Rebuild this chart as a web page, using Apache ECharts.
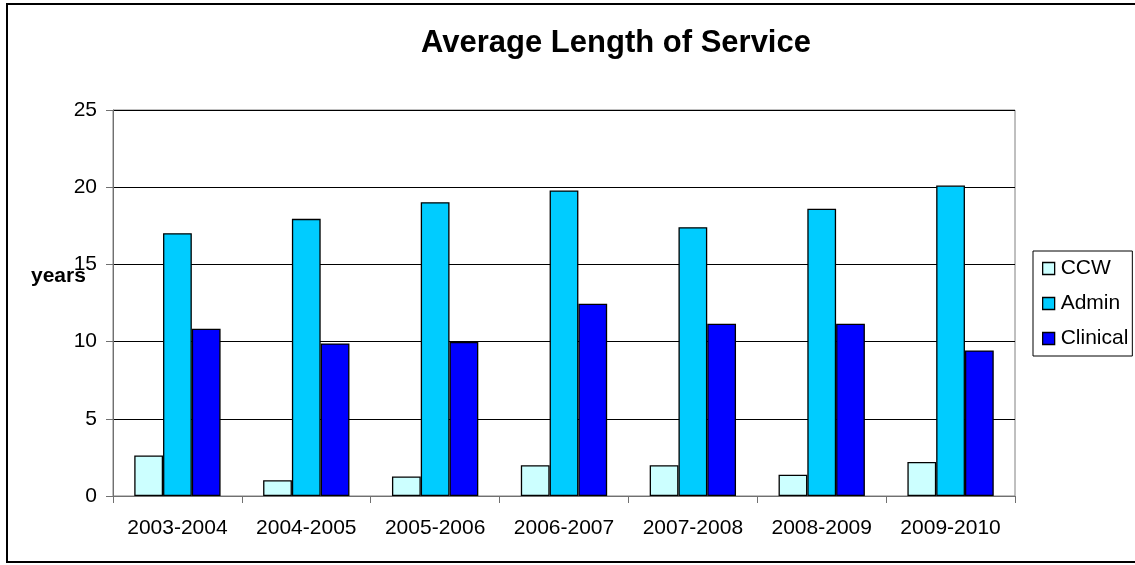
<!DOCTYPE html>
<html>
<head>
<meta charset="utf-8">
<script src="https://cdn.jsdelivr.net/npm/echarts@6/dist/echarts.min.js"></script>
<style>
  html, body { margin: 0; padding: 0; background: #fff; }
  #chart { width: 1135px; height: 565px; }
</style>
</head>
<body>
<div id="chart"></div>
<script>
// Fiscal years shown along the horizontal axis
const years = ['2003-2004', '2004-2005', '2005-2006', '2006-2007', '2007-2008', '2008-2009', '2009-2010'];

// Average length of service (years) per staff group
const ccw      = [2.63, 1.02, 1.27, 1.99, 1.99, 1.38, 2.20];
const admin    = [17.02, 17.95, 19.03, 19.79, 17.41, 18.60, 20.11];
const clinical = [10.83, 9.88, 9.97, 12.45, 11.16, 11.16, 9.43];

// Value axis ticks
const yTicks = [0, 5, 10, 15, 20, 25];

const FONT = '"Liberation Sans", Arial, sans-serif';

const chart = echarts.init(document.getElementById('chart'), null, { renderer: 'canvas' });

function barSeries(name, data, color) {
  return {
    name: name,
    type: 'bar',
    data: data,
    barGap: '0%',
    barCategoryGap: '33%',
    itemStyle: { color: color, borderColor: '#000', borderWidth: 1.3 },
    emphasis: { disabled: true },
    animation: false
  };
}

chart.setOption({
  animation: false,
  backgroundColor: '#fff',
  textStyle: { fontFamily: FONT },
  grid: {
    left: 113, right: 120, top: 110, bottom: 69,
    show: true, borderColor: '#808080', borderWidth: 1, backgroundColor: 'transparent'
  },
  legend: {
    orient: 'vertical',
    left: 1033, top: 251,
    padding: [7, 4, 7, 9],
    itemWidth: 12, itemHeight: 12,
    itemGap: 14,
    icon: 'rect',
    borderColor: '#000', borderWidth: 1,
    backgroundColor: '#fff',
    selectedMode: false,
    textStyle: { fontFamily: FONT, fontSize: 21, color: '#000', padding: [0, 0, 0, 1] },
    itemStyle: { borderColor: '#000', borderWidth: 1.3 },
    data: ['CCW', 'Admin', 'Clinical']
  },
  xAxis: {
    type: 'category',
    data: years,
    axisLine: { lineStyle: { color: '#707070', width: 1 } },
    axisTick: { show: true, length: 7, inside: false, alignWithLabel: false, lineStyle: { color: '#707070' } },
    axisLabel: { fontFamily: FONT, fontSize: 21, color: '#000', margin: 22, interval: 0 },
    splitLine: { show: false }
  },
  yAxis: {
    type: 'value',
    min: yTicks[0], max: yTicks[yTicks.length - 1], interval: yTicks[1] - yTicks[0],
    axisLine: { show: true, lineStyle: { color: '#707070', width: 1 } },
    axisTick: { show: true, length: 7, lineStyle: { color: '#707070' } },
    axisLabel: { fontFamily: FONT, fontSize: 21, color: '#000', margin: 16 },
    splitLine: { show: true, lineStyle: { color: '#000', width: 1 } }
  },
  series: [
    barSeries('CCW', ccw, '#CCFFFF'),
    barSeries('Admin', admin, '#00CCFF'),
    barSeries('Clinical', clinical, '#0000FF')
  ],
  graphic: [
    {
      type: 'rect', silent: true, z: -1,
      shape: { x: 7, y: 4, width: 1140, height: 558 },
      style: { fill: 'none', stroke: '#000', lineWidth: 2 }
    },
    {
      type: 'text', silent: true,
      x: 616, y: 43,
      style: {
        text: 'Average Length of Service',
        font: 'bold 31px ' + FONT,
        fill: '#000', textAlign: 'center', textVerticalAlign: 'middle'
      }
    },
    {
      type: 'text', silent: true, z: 10,
      x: 31, y: 276,
      style: {
        text: 'years',
        font: 'bold 21px ' + FONT,
        fill: '#000', textAlign: 'left', textVerticalAlign: 'middle'
      }
    }
  ]
});
</script>
</body>
</html>
